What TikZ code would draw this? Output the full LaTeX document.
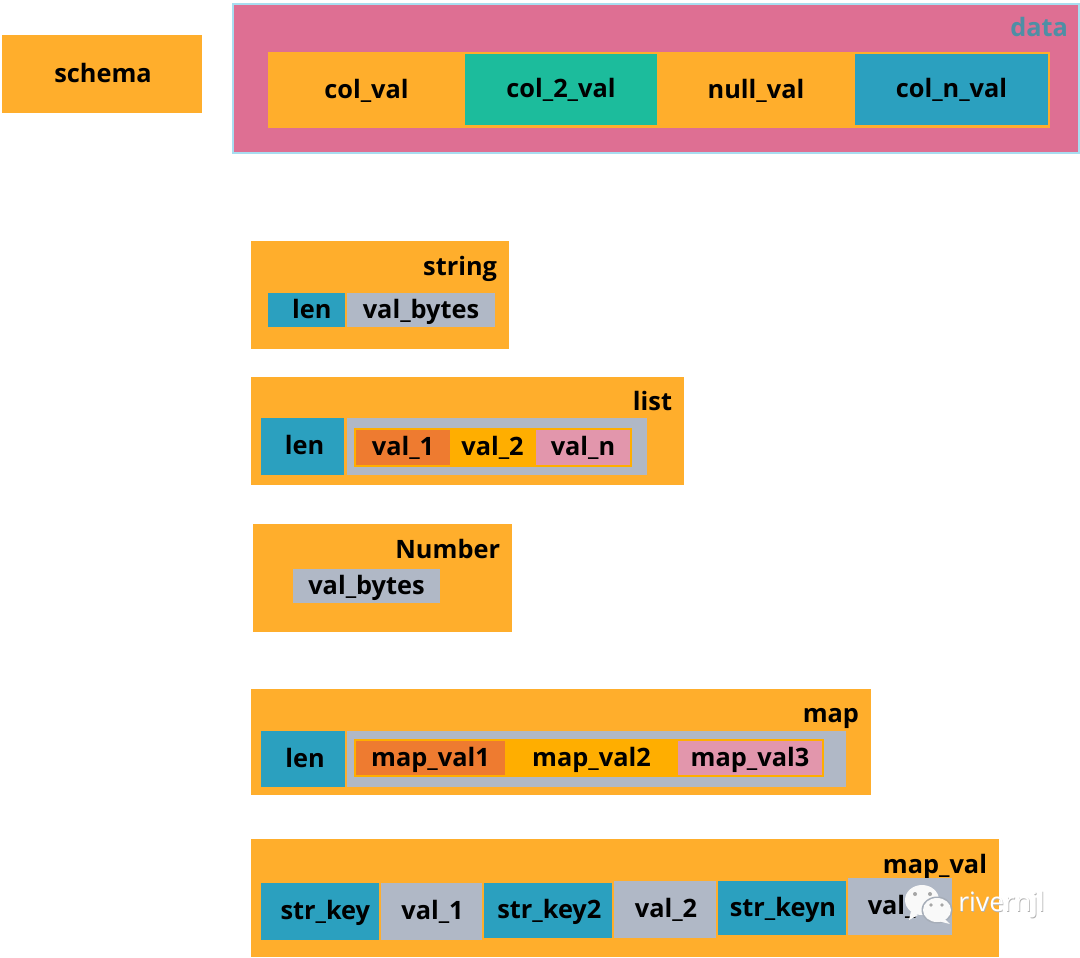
\documentclass[tikz,border=0pt]{standalone}
\usepackage{fontspec}
\setmainfont{Open Sans}
\definecolor{org}{HTML}{FFAE2C}
\definecolor{pinkbg}{HTML}{DE6F93}
\definecolor{skyb}{HTML}{A8DDF0}
\definecolor{grn}{HTML}{1CBC9C}
\definecolor{blu}{HTML}{2BA0BF}
\definecolor{gry}{HTML}{B0B8C6}
\definecolor{dorg}{HTML}{EE7B30}
\definecolor{yorg}{HTML}{FFAE00}
\definecolor{lpink}{HTML}{E296AC}
\definecolor{tealt}{HTML}{4E8FA5}
\tikzset{
  px/.style={x=0.75pt,y=-0.75pt},
  bx/.style={rectangle,draw=none,inner sep=0pt,outer sep=0pt,align=center,
    text height=14pt,text depth=2pt,
    font=\fontsize{19}{20}\selectfont\bfseries,text=black},
  lbl/.style={inner sep=0pt,outer sep=0pt,anchor=base east,
    font=\fontsize{19}{20}\selectfont\bfseries,text=black},
  bubble/.style={fill=white!95!gray,draw=none},
}
% name, x0, y0, x1, y1, options, text
\newcommand{\pbox}[7]{%
  \pgfmathsetmacro{\bw}{(#4-#2)*0.75}%
  \pgfmathsetmacro{\bh}{(#5-#3)*0.75}%
  \node[bx,minimum width=\bw pt,minimum height=\bh pt,#6] (#1) at ({(#2+#4)/2},{(#3+#5)/2}) {#7};%
}
\begin{document}
\begin{tikzpicture}[px]
\useasboundingbox (0,0) rectangle (1080,957);
\fill[white] (0,0) rectangle (1080,957);
% schema
\pbox{schema}{2}{35}{202}{113}{fill=org}{\hspace*{1.5pt}schema}
% data
\pbox{data}{233}{4}{1079}{153}{fill=pinkbg,draw=skyb,line width=1.2pt}{}
\node[lbl,text=tealt] (datal) at (1068,36) {data};
\pbox{row}{268}{52}{1050}{128}{fill=org}{}
\pbox{colval}{268}{54}{465}{126}{fill=org}{col\_val}
\pbox{coltwo}{465}{54}{657}{125}{fill=grn}{col\_2\_val}
\pbox{nullval}{657}{54}{855}{126}{fill=org}{null\_val}
\pbox{coln}{855}{54}{1048}{125}{fill=blu}{col\_n\_val}
% string
\pbox{stringb}{251}{241}{509}{349}{fill=org}{}
\node[lbl] (stringl) at (497,275) {string};
\pbox{slen}{268}{293}{345}{327}{fill=blu}{\hspace*{8pt}len}
\pbox{sval}{347}{293}{495}{327}{fill=gry}{val\_bytes}
% list
\pbox{listb}{251}{377}{684}{485}{fill=org}{}
\node[lbl] (listl) at (672,410) {list};
\pbox{llen}{261}{418}{344}{475}{fill=blu}{\hspace*{3pt}len}
\pbox{lgray}{347}{418}{647}{475}{fill=gry}{}
\pbox{linner}{354}{428}{632}{467}{fill=yorg}{}
\pbox{lv1}{356}{430}{450}{465}{fill=dorg}{val\_1}
\pbox{lv2}{450}{430}{535}{465}{fill=yorg}{val\_2}
\pbox{lvn}{536}{430}{630}{465}{fill=lpink}{val\_n}
% number
\pbox{numb}{253}{524}{512}{632}{fill=org}{}
\node[lbl] (numl) at (500,558) {Number};
\pbox{nval}{293}{569}{440}{603}{fill=gry}{val\_bytes}
% map
\pbox{mapb}{251}{689}{871}{795}{fill=org}{}
\node[lbl] (mapl) at (859,722) {map};
\pbox{mlen}{261}{731}{345}{787}{fill=blu}{\hspace*{3pt}len}
\pbox{mgray}{347}{731}{846}{787}{fill=gry}{}
\pbox{minner}{354}{739}{824}{777}{fill=yorg}{}
\pbox{mv1}{356}{741}{505}{775}{fill=dorg}{map\_val1}
\pbox{mv2}{505}{741}{678}{775}{fill=yorg}{map\_val2}
\pbox{mv3}{678}{741}{822}{775}{fill=lpink}{map\_val3}
% map_val
\pbox{mvb}{251}{839}{999}{957}{fill=org}{}
\node[lbl] (mvl) at (987,873) {map\_val};
\pbox{k1}{261}{883}{379}{940}{fill=blu}{\hspace*{8pt}str\_key}
\pbox{v1}{381}{883}{482}{940}{fill=gry}{\hspace*{1.5pt}val\_1}
\pbox{k2}{484}{883}{612}{938}{fill=blu}{\hspace*{2pt}str\_key2}
\pbox{v2}{614}{881}{716}{938}{fill=gry}{\hspace*{1.5pt}val\_2}
\pbox{kn}{718}{881}{846}{935}{fill=blu}{\hspace*{1.5pt}str\_keyn}
\pbox{vn}{848}{878}{952}{935}{fill=gry}{val\_n}
% watermark
\fill[bubble] (922,900) ellipse [x radius=17, y radius=15];
\fill[bubble] (911,911) -- (909,920) -- (918,915) -- cycle;
\fill[gray!70] (915,894) circle (2) (930,894) circle (2);
\fill[gry!80!gray] (937,910) ellipse [x radius=15.5, y radius=13.5];
\fill[bubble] (937,910) ellipse [x radius=14, y radius=12];
\fill[bubble] (944,918) -- (950,924) -- (938,921) -- cycle;
\fill[gray!70] (931,905) circle (1.8) (942,905) circle (1.8);
\node[inner sep=0pt,anchor=west,text=gray!60,font=\fontsize{20}{21}\selectfont] (wms) at (958.7,906) {rivernjl};
\node[inner sep=0pt,anchor=west,text=white,font=\fontsize{20}{21}\selectfont] (wm) at (958,905) {rivernjl};
\end{tikzpicture}
\end{document}
